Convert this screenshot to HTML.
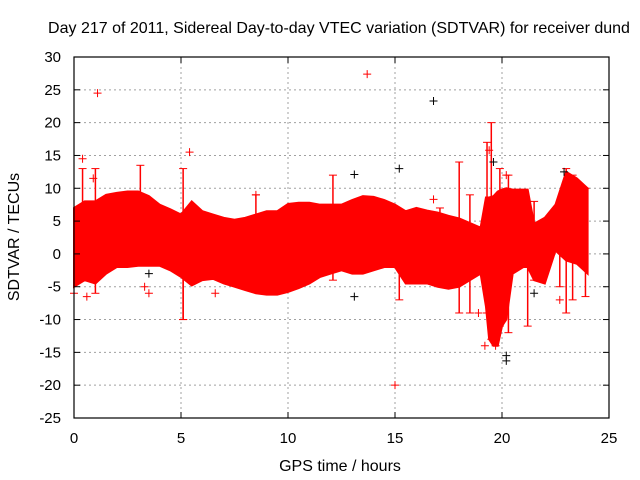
<!DOCTYPE html>
<html><head><meta charset="utf-8"><style>
html,body{margin:0;padding:0;background:#fff;}
svg{display:block;font-family:"Liberation Sans",sans-serif;}
</style></head><body>
<svg id="chart" width="640" height="480" viewBox="0 0 640 480">
<rect width="640" height="480" fill="#fff"/>
<text x="339" y="33" font-size="16" text-anchor="middle" fill="#000">Day 217 of 2011, Sidereal Day-to-day VTEC variation (SDTVAR) for receiver dund</text>
<text transform="translate(19,237) rotate(-90)" font-size="16" text-anchor="middle" fill="#000">SDTVAR / TECUs</text>
<text x="340" y="471" font-size="16" text-anchor="middle" fill="#000">GPS time / hours</text>
<g id="grid"></g>
<g id="data"></g>
<g id="axes"></g>
</svg>
<script>
const xTicks=[0,5,10,15,20,25];
const yTicks=[30,25,20,15,10,5,0,-5,-10,-15,-20,-25];
const bandHours=[0,0.5,1,1.5,2,2.5,3,3.5,4,4.5,5,5.5,6,6.5,7,7.5,8,8.5,9,9.5,10,10.5,11,11.5,12,12.5,13,13.5,14,14.5,15,15.5,16,16.5,17,17.5,18,18.5,19,19.25,19.4,19.6,19.8,20,20.2,20.5,21,21.2,21.5,22,22.5,23,23.5,24];
const bandUpper=[7,8,8,9,9.3,9.5,9.5,8.8,7.5,6.8,6,8,6.5,6,5.5,5.2,5.5,6,6.5,6.5,7.6,7.8,7.8,7.5,7.5,7.5,8.2,8.8,8.7,8.2,7.5,6.5,7,6.6,6.3,5.8,5.4,4.7,4,8.6,8.6,8.8,9.5,9.8,10,9.8,9.8,9.8,4.6,5.5,7.5,12.5,11.5,10];
const bandLower=[-5,-4,-4.5,-3,-2,-2,-1.8,-1.8,-1.8,-2.5,-3.5,-4.8,-4,-3.8,-4.5,-5,-5.5,-6,-6.2,-6.2,-5.8,-5.2,-4.5,-3.5,-3,-2.5,-3,-3,-2.5,-2,-2,-4.5,-4.5,-4.5,-5,-5.3,-5,-4,-3,-8,-13,-14,-14,-11,-10,-3,-2,-2,-4,-4.5,0.5,-1,-1.5,-3];
const spikeHours=[0.4,1.0,3.1,5.1,5.1,8.5,12.1,13.4,15.2,17.1,18.0,18.5,19.3,19.5,19.9,20.3,21.2,21.5,22.7,23.0,23.3,23.9];
const spikeTop=[13,13,13.5,13,5,9,12,7,6,7,14,9,17,20,13,12,8,8,8,13,12,10];
const spikeBottom=[4,-6,4,-10,-10,3,-4,-2.5,-7,-5,-9,-9,-9,-13,-11,-12,-11,-4,-5,-9,-7,-6.5];
const redPtX=[0.4,1.1,0.9,5.4,13.7,15.0,16.8,3.5,0.6,0.0,19.4,19.2,20.2,19.7,8.5,6.6,18.9,22.7,3.3];
const redPtY=[14.5,24.5,11.5,15.5,27.4,-20,8.3,-6,-6.5,-6,15.8,-14,12,-14,9,-6,-9,-7,-5];
const blackPtX=[13.1,15.2,16.8,19.6,20.2,20.2,21.5,13.1,3.5,22.9];
const blackPtY=[12.1,13,23.3,14,-15.5,-16.3,-6,-6.5,-3,12.5];
const L=74,R=609,T=57,B=418;
const sx=v=>L+(v-0)/(25-0)*(R-L);
const sy=v=>B-(v+25)/(55)*(B-T);
const NS="http://www.w3.org/2000/svg";
function mk(tag,attrs,parent){const e=document.createElementNS(NS,tag);for(const k in attrs)e.setAttribute(k,attrs[k]);parent.appendChild(e);return e;}
const grid=document.getElementById('grid'),data=document.getElementById('data'),axes=document.getElementById('axes');
xTicks.forEach(t=>{
  if(t>0&&t<25){const g=mk('line',{x1:sx(t),x2:sx(t),y1:T,y2:B,stroke:'#a0a0a0','stroke-dasharray':'2,3'},grid);
  
  }
  const tx=mk('text',{x:sx(t),y:B+25,'font-size':15,'text-anchor':'middle',fill:'#000'},axes);tx.textContent=t;
  
  
  mk('line',{x1:sx(t),x2:sx(t),y1:B,y2:B-6,stroke:'#000'},axes);
  mk('line',{x1:sx(t),x2:sx(t),y1:T,y2:T+6,stroke:'#000'},axes);
});
yTicks.forEach(t=>{
  if(t<30&&t>-25){const g=mk('line',{x1:L,x2:R,y1:sy(t),y2:sy(t),stroke:'#a0a0a0','stroke-dasharray':'2,3'},grid);
  
  }
  const tx=mk('text',{x:L-13,y:sy(t)+5,'font-size':15,'text-anchor':'end',fill:'#000'},axes);tx.textContent=t;
  
  
  mk('line',{x1:L,x2:L+6,y1:sy(t),y2:sy(t),stroke:'#000'},axes);
  mk('line',{x1:R,x2:R-6,y1:sy(t),y2:sy(t),stroke:'#000'},axes);
});
const fr=mk('rect',{x:L,y:T,width:R-L,height:B-T,fill:'none',stroke:'#000','stroke-width':1.2},axes);


let pts=[];
bandHours.forEach((h,i)=>pts.push(sx(h)+','+sy(bandUpper[i])));
for(let i=bandHours.length-1;i>=0;i--)pts.push(sx(bandHours[i])+','+sy(bandLower[i]));
const band=mk('polygon',{points:pts.join(' '),fill:'#ff0000',stroke:'#ff0000','stroke-width':2},data);


spikeHours.forEach((h,i)=>{
  const s=mk('line',{x1:sx(h),x2:sx(h),y1:sy(spikeTop[i]),y2:sy(spikeBottom[i]),stroke:'#ff0000','stroke-width':1.5},data);
  
  
  mk('line',{x1:sx(h)-4,x2:sx(h)+4,y1:sy(spikeTop[i]),y2:sy(spikeTop[i]),stroke:'#ff0000'},data);
  mk('line',{x1:sx(h)-4,x2:sx(h)+4,y1:sy(spikeBottom[i]),y2:sy(spikeBottom[i]),stroke:'#ff0000'},data);
});
function cross(x,y,c,name){
  const g=mk('path',{d:`M${x-4},${y}H${x+4}M${x},${y-4}V${y+4}`,stroke:c,'stroke-width':1,fill:'none'},data);
  
  
}
redPtX.forEach((h,i)=>cross(sx(h),sy(redPtY[i]),'#ff0000','outlier-point'));
blackPtX.forEach((h,i)=>cross(sx(h),sy(blackPtY[i]),'#000','outlier-point-black'));
</script>
</body></html>
